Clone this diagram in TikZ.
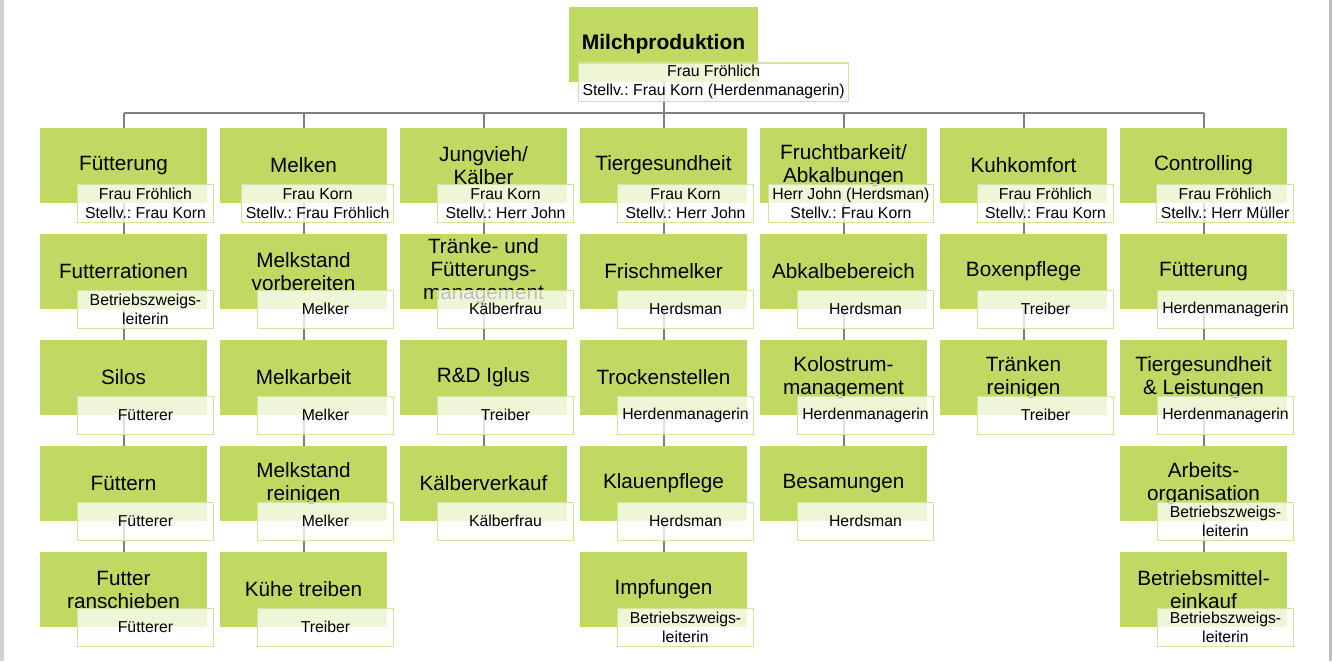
\documentclass[tikz,border=0pt]{standalone}
\usepackage{fontspec}
\setmainfont{Liberation Sans}
\usepackage{tikz}
\usetikzlibrary{backgrounds}
\definecolor{unitgreen}{HTML}{C0D963}
\definecolor{roleline}{HTML}{D0E69C}
\definecolor{connline}{HTML}{808083}
\frenchspacing

\begin{document}
\begin{tikzpicture}[x=1pt, y=-1pt,
  unit/.style={fill=unitgreen, minimum width=167pt, minimum height=75pt, align=center, inner sep=0pt, font=\fontsize{20.7}{23}\selectfont},
  role/.style={draw=roleline, line width=1.4pt, fill=white, fill opacity=0.75, text opacity=1, anchor=east, minimum width=136pt, minimum height=38pt, inner xsep=4pt, inner ysep=1.5pt, align=center, font=\fontsize{15.8}{19}\selectfont},
  conn/.style={line width=2pt, connline},
]
\useasboundingbox (0,0) rectangle (1332,661);
\fill[black!18] (0,0) rectangle (4,661);
\fill[black!25] (1329,0) rectangle (1332,661);

% ── Top ──
\node[unit, minimum width=189pt, font=\fontsize{21}{23}\selectfont\bfseries] (milch) at (663.5,44.5) {Milchproduktion};
\node[role, anchor=west, minimum width=265pt] (milch-r) at ([xshift=9pt]milch.south west)
  {Frau Fröhlich\\Stellv.: Frau Korn (Herdenmanagerin)};

% ── Fütterung ──
\node[unit] (fuett) at (123.5,165.5) {Fütterung};
\node[role] (fuett-r) at ([xshift=7pt]fuett.south east) {Frau Fröhlich\\Stellv.: Frau Korn};
\node[unit] (fuett1) at (123.5,271.5) {Futterrationen};
\node[role] (fuett1-r) at ([xshift=7pt]fuett1.south east) {Betriebszweigs-\\leiterin};
\node[unit] (fuett2) at (123.5,377.5) {Silos};
\node[role] (fuett2-r) at ([xshift=7pt]fuett2.south east) {Fütterer};
\node[unit] (fuett3) at (123.5,483.5) {Füttern};
\node[role] (fuett3-r) at ([xshift=7pt]fuett3.south east) {Fütterer};
\node[unit] (fuett4) at (123.5,589.5) {Futter\\ranschieben};
\node[role] (fuett4-r) at ([xshift=7pt]fuett4.south east) {Fütterer};

% ── Melken ──
\node[unit] (melk) at (303.5,165.5) {Melken};
\node[role] (melk-r) at ([xshift=7pt]melk.south east) {Frau Korn\\Stellv.: Frau Fröhlich};
\node[unit] (melk1) at (303.5,271.5) {Melkstand\\vorbereiten};
\node[role] (melk1-r) at ([xshift=7pt]melk1.south east) {Melker};
\node[unit] (melk2) at (303.5,377.5) {Melkarbeit};
\node[role] (melk2-r) at ([xshift=7pt]melk2.south east) {Melker};
\node[unit] (melk3) at (303.5,483.5) {Melkstand\\reinigen};
\node[role] (melk3-r) at ([xshift=7pt]melk3.south east) {Melker};
\node[unit] (melk4) at (303.5,589.5) {Kühe treiben};
\node[role] (melk4-r) at ([xshift=7pt]melk4.south east) {Treiber};

% ── Jungvieh ──
\node[unit] (jung) at (483.5,165.5) {Jungvieh/\\Kälber};
\node[role] (jung-r) at ([xshift=7pt]jung.south east) {Frau Korn\\Stellv.: Herr John};
\node[unit] (jung1) at (483.5,271.5) {Tränke- und\\Fütterungs-\\management};
\node[role] (jung1-r) at ([xshift=7pt]jung1.south east) {Kälberfrau};
\node[unit] (jung2) at (483.5,377.5) {R\&D Iglus};
\node[role] (jung2-r) at ([xshift=7pt]jung2.south east) {Treiber};
\node[unit] (jung3) at (483.5,483.5) {Kälberverkauf};
\node[role] (jung3-r) at ([xshift=7pt]jung3.south east) {Kälberfrau};

% ── Tiergesundheit ──
\node[unit] (gesund) at (663.5,165.5) {Tiergesundheit};
\node[role] (gesund-r) at ([xshift=7pt]gesund.south east) {Frau Korn\\Stellv.: Herr John};
\node[unit] (gesund1) at (663.5,271.5) {Frischmelker};
\node[role] (gesund1-r) at ([xshift=7pt]gesund1.south east) {Herdsman};
\node[unit] (gesund2) at (663.5,377.5) {Trockenstellen};
\node[role] (gesund2-r) at ([xshift=7pt]gesund2.south east) {Herdenmanagerin};
\node[unit] (gesund3) at (663.5,483.5) {Klauenpflege};
\node[role] (gesund3-r) at ([xshift=7pt]gesund3.south east) {Herdsman};
\node[unit] (gesund4) at (663.5,589.5) {Impfungen};
\node[role] (gesund4-r) at ([xshift=7pt]gesund4.south east) {Betriebszweigs-\\leiterin};

% ── Fruchtbarkeit ──
\node[unit] (frucht) at (843.5,165.5) {Fruchtbarkeit/\\Abkalbungen};
\node[role] (frucht-r) at ([xshift=7pt]frucht.south east) {Herr John (Herdsman)\\Stellv.: Frau Korn};
\node[unit] (frucht1) at (843.5,271.5) {Abkalbebereich};
\node[role] (frucht1-r) at ([xshift=7pt]frucht1.south east) {Herdsman};
\node[unit] (frucht2) at (843.5,377.5) {Kolostrum-\\management};
\node[role] (frucht2-r) at ([xshift=7pt]frucht2.south east) {Herdenmanagerin};
\node[unit] (frucht3) at (843.5,483.5) {Besamungen};
\node[role] (frucht3-r) at ([xshift=7pt]frucht3.south east) {Herdsman};

% ── Kuhkomfort ──
\node[unit] (komfort) at (1023.5,165.5) {Kuhkomfort};
\node[role] (komfort-r) at ([xshift=7pt]komfort.south east) {Frau Fröhlich\\Stellv.: Frau Korn};
\node[unit] (komfort1) at (1023.5,271.5) {Boxenpflege};
\node[role] (komfort1-r) at ([xshift=7pt]komfort1.south east) {Treiber};
\node[unit] (komfort2) at (1023.5,377.5) {Tränken\\reinigen};
\node[role] (komfort2-r) at ([xshift=7pt]komfort2.south east) {Treiber};

% ── Controlling ──
\node[unit] (contr) at (1203.5,165.5) {Controlling};
\node[role] (contr-r) at ([xshift=7pt]contr.south east) {Frau Fröhlich\\Stellv.: Herr Müller};
\node[unit] (contr1) at (1203.5,271.5) {Fütterung};
\node[role] (contr1-r) at ([xshift=7pt]contr1.south east) {Herdenmanagerin};
\node[unit] (contr2) at (1203.5,377.5) {Tiergesundheit\\\& Leistungen};
\node[role] (contr2-r) at ([xshift=7pt]contr2.south east) {Herdenmanagerin};
\node[unit] (contr3) at (1203.5,483.5) {Arbeits-\\organisation};
\node[role] (contr3-r) at ([xshift=7pt]contr3.south east) {Betriebszweigs-\\leiterin};
\node[unit] (contr4) at (1203.5,589.5) {Betriebsmittel-\\einkauf};
\node[role] (contr4-r) at ([xshift=7pt]contr4.south east) {Betriebszweigs-\\leiterin};

% ── Connectors (behind the boxes) ──
\coordinate (bus) at (0,113);
\begin{scope}[on background layer]
\draw[conn] (milch.center) -- (milch |- bus);
\draw[conn] (fuett |- bus) -- (contr |- bus);
\draw[conn] (fuett |- bus) -- (fuett4.center);
\draw[conn] (melk |- bus) -- (melk4.center);
\draw[conn] (jung |- bus) -- (jung3.center);
\draw[conn] (gesund |- bus) -- (gesund4.center);
\draw[conn] (frucht |- bus) -- (frucht3.center);
\draw[conn] (komfort |- bus) -- (komfort2.center);
\draw[conn] (contr |- bus) -- (contr4.center);
\end{scope}

\end{tikzpicture}
\end{document}
